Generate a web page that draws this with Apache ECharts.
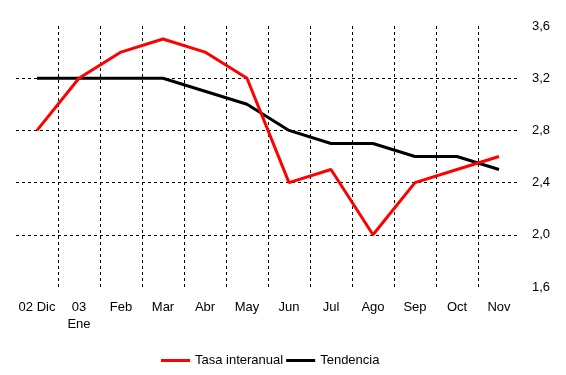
<!DOCTYPE html>
<html>
<head>
<meta charset="utf-8">
<script src="https://cdn.jsdelivr.net/npm/echarts@6/dist/echarts.min.js"></script>
<style>
html,body{margin:0;padding:0;background:#fff;}
#c{width:566px;height:375px;}
</style>
</head>
<body>
<div id="c"></div>
<script>
const categories = ['02 Dic', '03\nEne', 'Feb', 'Mar', 'Abr', 'May', 'Jun', 'Jul', 'Ago', 'Sep', 'Oct', 'Nov'];
const tasaInteranual = [2.8, 3.2, 3.4, 3.5, 3.4, 3.2, 2.4, 2.5, 2.0, 2.4, 2.5, 2.6];
const tendencia = [3.2, 3.2, 3.2, 3.2, 3.1, 3.0, 2.8, 2.7, 2.7, 2.6, 2.6, 2.5];
const seriesNames = ['Tasa interanual', 'Tendencia'];

const font = 'Liberation Sans, Arial, sans-serif';
const chart = echarts.init(document.getElementById('c'), null, {renderer: 'canvas'});
chart.setOption({
  animation: false,
  backgroundColor: '#fff',
  grid: {left: 16, right: 46, top: 26, bottom: 88, containLabel: false},
  legend: {
    left: 156, top: 349,
    icon: 'rect', itemWidth: 29, itemHeight: 3, itemGap: 3,
    textStyle: {fontFamily: font, fontSize: 13, color: '#000'},
    data: seriesNames
  },
  xAxis: {
    type: 'category',
    data: categories,
    boundaryGap: true,
    axisLine: {show: false},
    axisTick: {show: false},
    axisLabel: {fontFamily: font, fontSize: 13, color: '#000', margin: 12, lineHeight: 17, interval: 0},
    splitLine: {show: true, showMinLine: false, showMaxLine: false, lineStyle: {color: '#000', width: 1, type: [3, 3]}}
  },
  yAxis: {
    type: 'value',
    position: 'right',
    min: 1.6, max: 3.6, interval: 0.4,
    axisLine: {show: false},
    axisTick: {show: false},
    axisLabel: {fontFamily: font, fontSize: 13, color: '#000', margin: 12,
      formatter: v => v.toFixed(1).replace('.', ',')},
    splitLine: {show: true, showMinLine: false, showMaxLine: false, lineStyle: {color: '#000', width: 1, type: [3, 3]}}
  },
  series: [
    {name: seriesNames[0], type: 'line', data: tasaInteranual, showSymbol: false, symbol: 'none',
      lineStyle: {color: '#ff0000', width: 3}, itemStyle: {color: '#ff0000'}, z: 3},
    {name: seriesNames[1], type: 'line', data: tendencia, showSymbol: false, symbol: 'none',
      lineStyle: {color: '#000', width: 3}, itemStyle: {color: '#000'}, z: 2}
  ]
});
</script>
</body>
</html>
